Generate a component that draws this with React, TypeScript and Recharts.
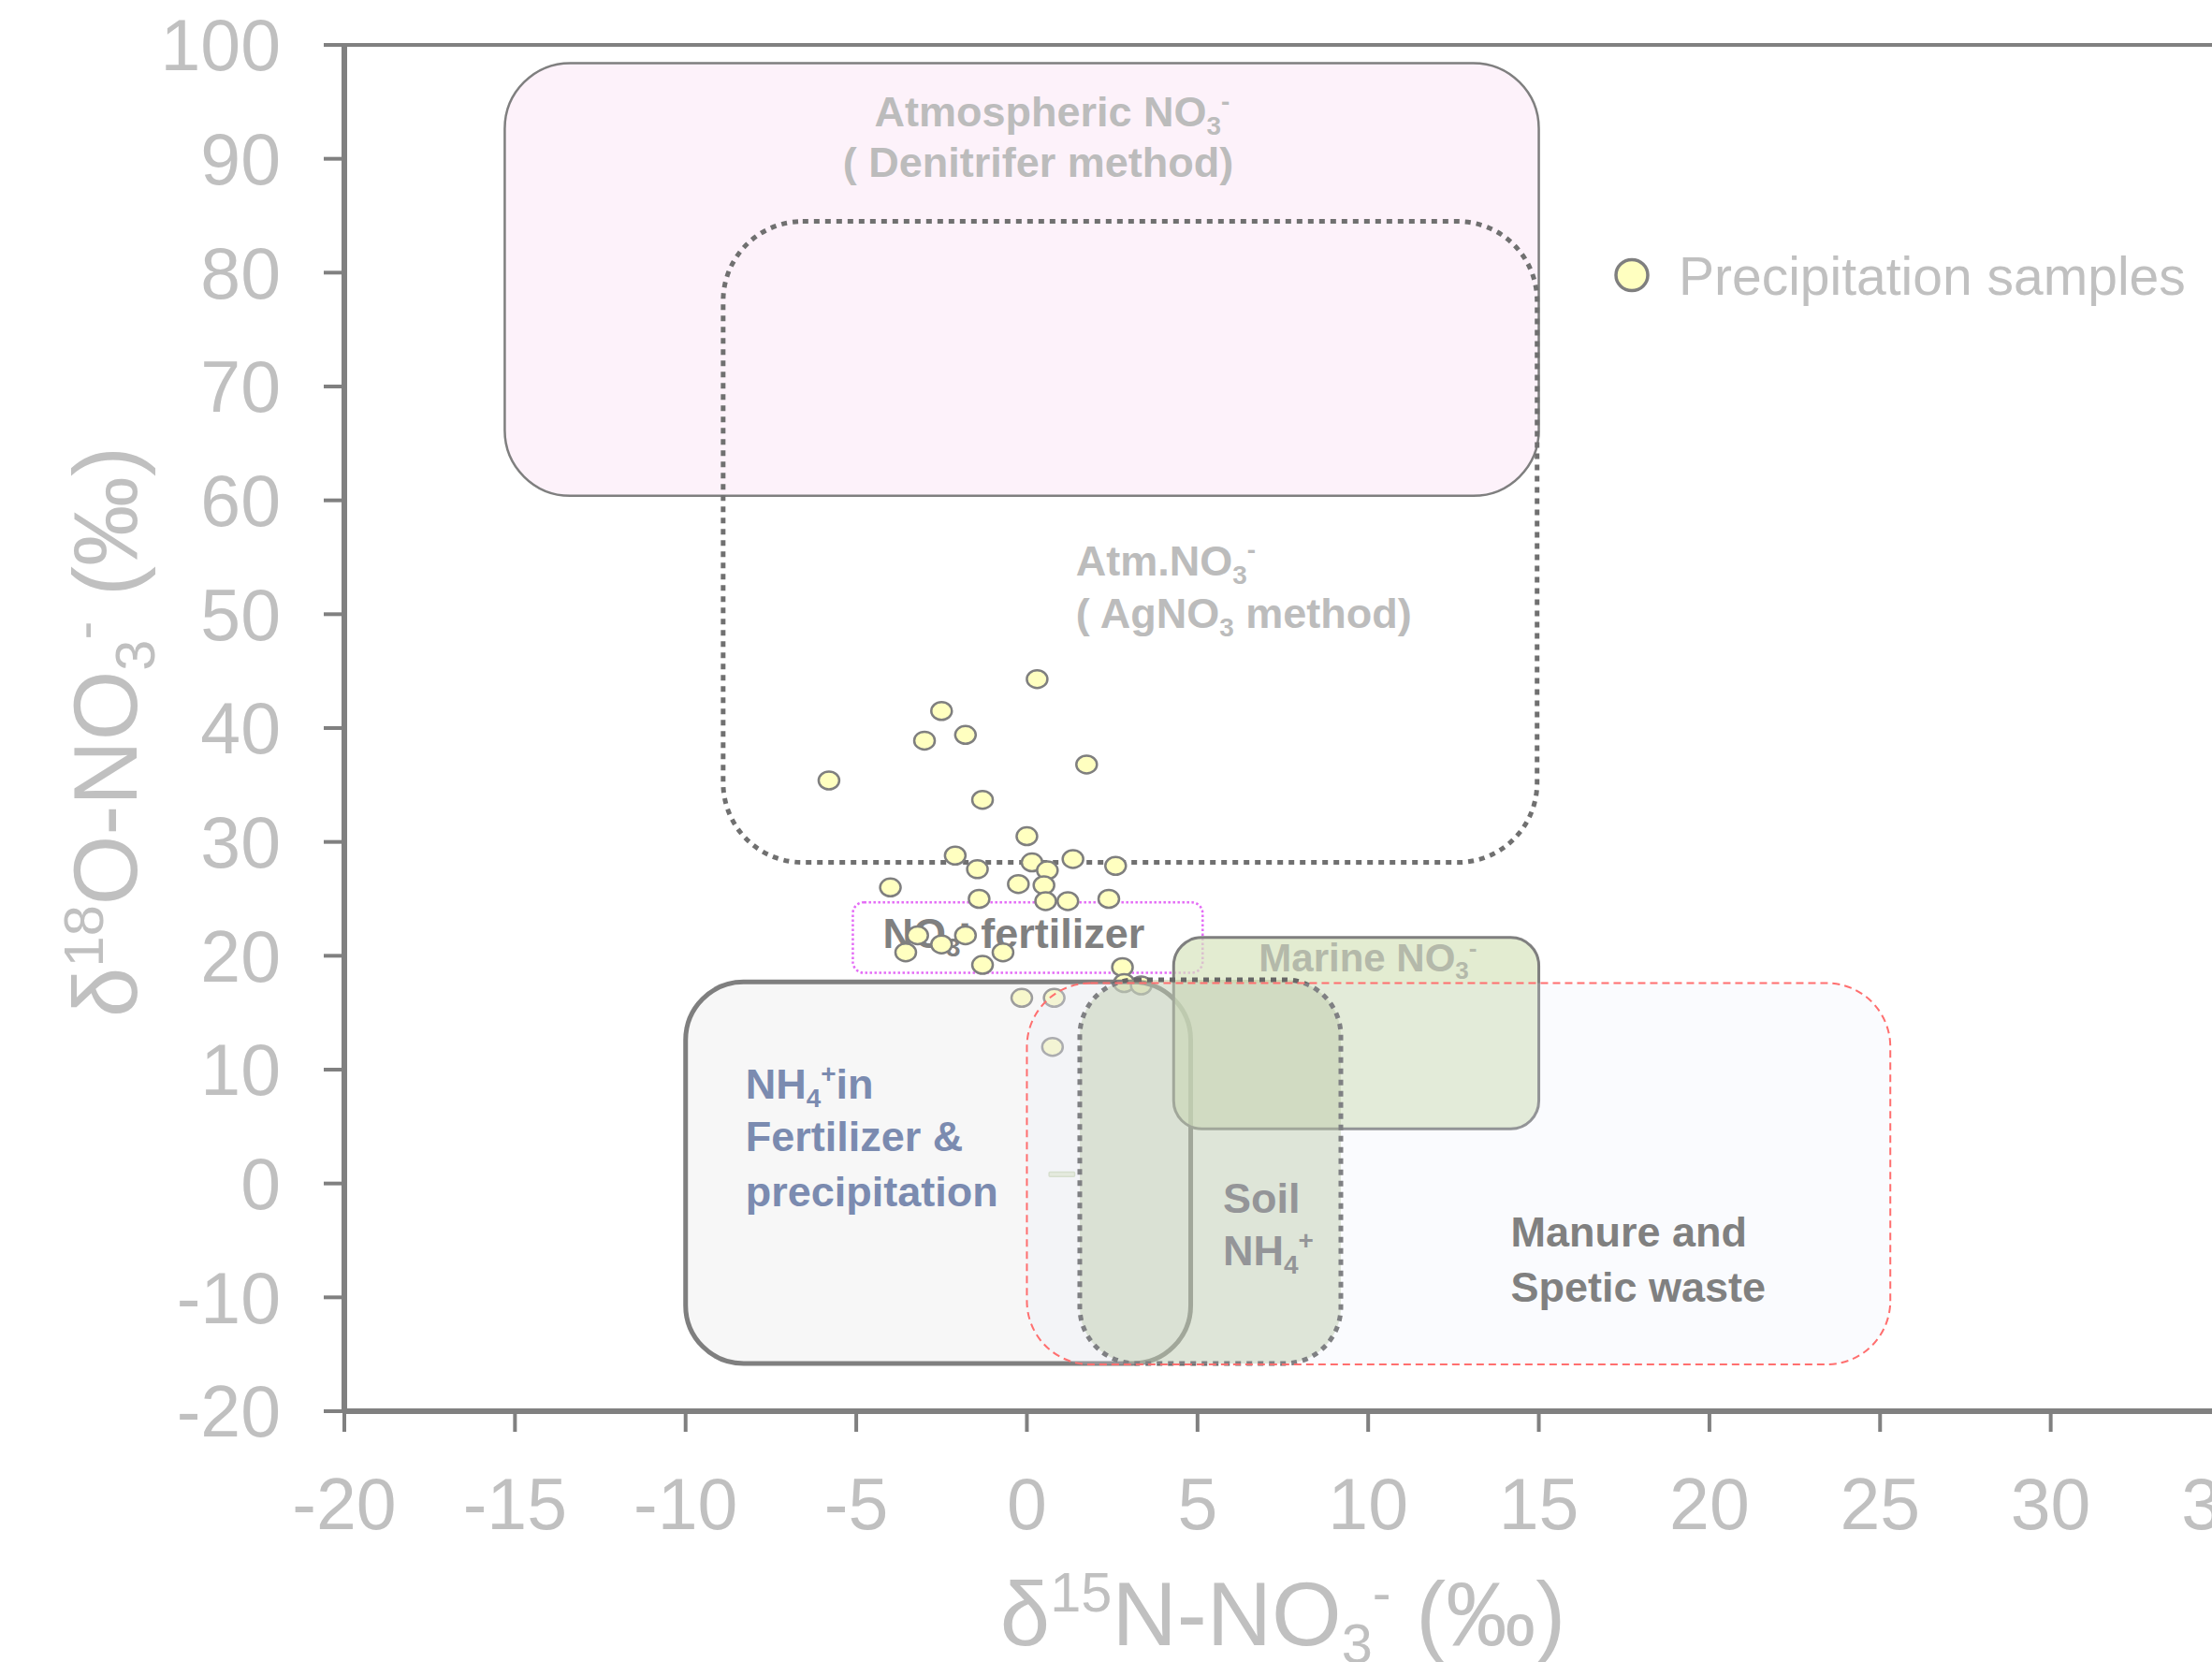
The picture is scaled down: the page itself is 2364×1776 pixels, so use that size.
import React from "react";
import {
	Label,
	Legend,
	ReferenceArea,
	ReferenceLine,
	Scatter,
	ScatterChart,
	XAxis,
	YAxis,
} from "recharts";

const FONT = "'Liberation Sans', Arial, Helvetica, sans-serif";

// axis ticks
const xTicks = [-20, -15, -10, -5, 0, 5, 10, 15, 20, 25, 30, 35];
const yTicks = [-20, -10, 0, 10, 20, 30, 40, 50, 60, 70, 80, 90, 100];

// precipitation samples (d15N, d18O)
const sampleN = [
	0.3, -2.5, -3.0, -1.8, 1.75, -5.8, -1.3, 0.0, -2.1, -1.45, 0.15, 0.6, 1.35,
	2.6, -4.0, -0.25, 0.5, -1.4, 0.55, 1.2, 2.4, -3.2, -2.5, -1.8, -3.55, -0.7,
	-1.3, 2.8, -0.15, 0.8, 2.85, 3.35, 0.75,
];
const sampleO = [
	44.3, 41.5, 38.9, 39.4, 36.8, 35.4, 33.7, 30.5, 28.8, 27.6, 28.2, 27.5, 28.5,
	27.9, 26.0, 26.3, 26.2, 25.0, 24.8, 24.8, 25.0, 21.8, 21.0, 21.8, 20.3, 20.3,
	19.2, 19.0, 16.3, 16.3, 17.6, 17.4, 12.0,
];
const samples = sampleN.map((x, i) => ({ x, y: sampleO[i] }));

// source fields [x1, x2] / [y1, y2]
const atmDenitX = [-15.3, 15.0];
const atmDenitY = [60.4, 98.4];
const atmAgX = [-8.9, 14.95];
const atmAgY = [28.2, 84.5];
const fertNO3X = [-5.1, 5.15];
const fertNO3Y = [18.5, 24.7];
const nh4FertX = [-10.0, 4.8];
const nh4FertY = [-15.8, 17.7];
const marineX = [4.3, 15.0];
const marineY = [4.8, 21.6];
const soilX = [1.55, 9.2];
const soilY = [-15.8, 17.9];
const manureX = [0.0, 25.3];
const manureY = [-15.9, 17.6];
const dashX = [0.65, 1.4];
const dashY = [0.6, 1.0];

type Part = [string, number?];

function Rich({ x, y, parts, size, fill, anchor = "start", transform }: any) {
	let shift = 0;
	const spans = (parts as Part[]).map(([t, k = 0], i) => {
		const target = k === 1 ? 0.2 * size : k === -1 ? -0.38 * size : 0;
		const dy = target - shift;
		shift = target;
		return (
			<tspan key={i} dy={dy} fontSize={k ? size * 0.62 : size}>
				{t}
			</tspan>
		);
	});
	return (
		<text
			x={x}
			y={y}
			fill={fill}
			fontSize={size}
			fontFamily={FONT}
			textAnchor={anchor}
			transform={transform}
		>
			{spans}
		</text>
	);
}

function boxShape(style: any, texts: any[]) {
	return (props: any) => {
		const { x, y, width, height } = props;
		return (
			<g>
				<rect
					x={x}
					y={y}
					width={width}
					height={height}
					rx={style.r}
					ry={style.r}
					fill={style.fill}
					fillOpacity={style.fillOpacity ?? 1}
					stroke={style.stroke}
					strokeWidth={style.strokeWidth}
					strokeDasharray={style.dash}
				/>
				{texts.map((t, i) => (
					<g key={i} fontWeight="bold">
						<Rich
							x={x + t.dx}
							y={y + t.dy}
							parts={t.parts}
							size={t.size ?? 45}
							fill={t.fill}
							anchor={t.anchor}
						/>
					</g>
				))}
			</g>
		);
	};
}

const SampleDot = (props: any) => {
	const { cx, cy } = props;
	if (cx == null || cy == null) return null;
	return (
		<ellipse
			cx={cx}
			cy={cy}
			rx={11}
			ry={9.5}
			fill="#ffffc0"
			stroke="#7f7f7f"
			strokeWidth={2.5}
		/>
	);
};

const LegendBox = (props: any) => {
	const name = props.payload?.[0]?.value ?? "Precipitation samples";
	return (
		<svg width={660} height={80}>
			<ellipse
				cx={24}
				cy={40}
				rx={17}
				ry={16.5}
				fill="#ffffc0"
				stroke="#7f7f7f"
				strokeWidth={3.5}
			/>
			<text x={74} y={61} fill="#c0c0c0" fontSize={57} fontFamily={FONT}>
				{name}
			</text>
		</svg>
	);
};

const XTitle = (props: any) => {
	const vb = props.viewBox || {};
	return (
		<Rich
			x={vb.x + vb.width / 2}
			y={vb.y + 250}
			anchor="middle"
			size={96}
			fill="#c0c0c0"
			parts={[["δ"], ["15", -1], ["N-NO"], ["3", 1], ["-", -1], [" (‰)"]]}
		/>
	);
};

const YTitle = (props: any) => {
	const vb = props.viewBox || {};
	const cx = 146;
	const cy = vb.y + vb.height / 2 + 4;
	return (
		<Rich
			x={cx}
			y={cy}
			anchor="middle"
			size={96}
			fill="#c0c0c0"
			transform={`rotate(-90 ${cx} ${cy})`}
			parts={[["δ"], ["18", -1], ["O-NO"], ["3", 1], ["-", -1], [" (‰)"]]}
		/>
	);
};

export default function App() {
	const tickStyle = { fill: "#c0c0c0", fontSize: 77, fontFamily: FONT };
	return (
		<div
			style={{
				position: "absolute",
				left: 0,
				top: 0,
				width: 2364,
				height: 1776,
				overflow: "hidden",
				background: "#fff",
			}}
		>
			<ScatterChart
				width={2420}
				height={1776}
				margin={{ top: 48, right: 46, bottom: 0, left: 0 }}
			>
				<XAxis
					type="number"
					dataKey="x"
					domain={[-20, 35]}
					ticks={xTicks}
					interval={0}
					allowDataOverflow
					height={268}
					tickSize={22}
					tickMargin={49}
					tick={tickStyle}
					tickLine={{ stroke: "#808080", strokeWidth: 4 }}
					axisLine={{ stroke: "#808080", strokeWidth: 6 }}
				>
					<Label content={XTitle} />
				</XAxis>
				<YAxis
					type="number"
					dataKey="y"
					domain={[-20, 100]}
					ticks={yTicks}
					interval={0}
					allowDataOverflow
					width={368}
					tickSize={22}
					tickMargin={46}
					tick={tickStyle}
					tickLine={{ stroke: "#808080", strokeWidth: 4 }}
					axisLine={{ stroke: "#808080", strokeWidth: 6 }}
				>
					<Label content={YTitle} />
				</YAxis>

				<ReferenceArea
					x1={atmDenitX[0]}
					x2={atmDenitX[1]}
					y1={atmDenitY[0]}
					y2={atmDenitY[1]}
					zIndex={100}
					shape={boxShape(
						{ r: 70, fill: "#fdf2fa", stroke: "#7f7f7f", strokeWidth: 2.5 },
						[
							{
								dx: 585,
								dy: 68,
								anchor: "middle",
								fill: "#bcbcbc",
								parts: [["Atmospheric NO"], ["3", 1], ["-", -1]],
							},
							{
								dx: 570,
								dy: 122,
								anchor: "middle",
								fill: "#bcbcbc",
								parts: [["( Denitrifer method)"]],
							},
						],
					)}
				/>
				<ReferenceArea
					x1={atmAgX[0]}
					x2={atmAgX[1]}
					y1={atmAgY[0]}
					y2={atmAgY[1]}
					zIndex={110}
					shape={boxShape(
						{ r: 85, fill: "none", stroke: "#707070", strokeWidth: 5, dash: "6 6" },
						[
							{
								dx: 377,
								dy: 378,
								fill: "#bcbcbc",
								parts: [["Atm.NO"], ["3", 1], ["-", -1]],
							},
							{
								dx: 377,
								dy: 434,
								fill: "#bcbcbc",
								parts: [["( AgNO"], ["3", 1], [" method)"]],
							},
						],
					)}
				/>
				<ReferenceArea
					x1={fertNO3X[0]}
					x2={fertNO3X[1]}
					y1={fertNO3Y[0]}
					y2={fertNO3Y[1]}
					zIndex={120}
					shape={boxShape(
						{ r: 12, fill: "none", stroke: "#e46cf6", strokeWidth: 2.5, dash: "2.5 2.5" },
						[
							{
								dx: 32,
								dy: 49,
								fill: "#808080",
								parts: [["NO"], ["3", 1], ["-", -1], [" fertilizer"]],
							},
						],
					)}
				/>

				<Scatter
					name="Precipitation samples"
					data={samples}
					shape={SampleDot}
					isAnimationActive={false}
					zIndex={600}
				/>

				<ReferenceArea
					x1={nh4FertX[0]}
					x2={nh4FertX[1]}
					y1={nh4FertY[0]}
					y2={nh4FertY[1]}
					zIndex={700}
					shape={boxShape(
						{ r: 62, fill: "#e6e6e6", fillOpacity: 0.3, stroke: "#7f7f7f", strokeWidth: 5 },
						[
							{ dx: 64, dy: 125, fill: "#7b8bb0", parts: [["NH"], ["4", 1], ["+", -1], ["in"]] },
							{ dx: 64, dy: 181, fill: "#7b8bb0", parts: [["Fertilizer &"]] },
							{ dx: 64, dy: 240, fill: "#7b8bb0", parts: [["precipitation"]] },
						],
					)}
				/>
				<ReferenceArea
					x1={dashX[0]}
					x2={dashX[1]}
					y1={dashY[0]}
					y2={dashY[1]}
					zIndex={705}
					shape={boxShape(
						{ r: 1, fill: "#e4ead8", stroke: "#d3dcc4", strokeWidth: 1.5 },
						[],
					)}
				/>
				<ReferenceArea
					x1={marineX[0]}
					x2={marineX[1]}
					y1={marineY[0]}
					y2={marineY[1]}
					zIndex={710}
					shape={boxShape(
						{ r: 30, fill: "#d7e4be", fillOpacity: 0.7, stroke: "#7f7f7f", strokeWidth: 3 },
						[
							{
								dx: 91,
								dy: 36,
								size: 42,
								fill: "#b4b9aa",
								parts: [["Marine NO"], ["3", 1], ["-", -1]],
							},
						],
					)}
				/>
				<ReferenceArea
					x1={soilX[0]}
					x2={soilX[1]}
					y1={soilY[0]}
					y2={soilY[1]}
					zIndex={720}
					shape={boxShape(
						{ r: 60, fill: "#aabb89", fillOpacity: 0.4, stroke: "#666666", strokeWidth: 5, dash: "6 6" },
						[
							{ dx: 153, dy: 249, fill: "#808080", parts: [["Soil"]] },
							{ dx: 153, dy: 305, fill: "#808080", parts: [["NH"], ["4", 1], ["+", -1]] },
						],
					)}
				/>
				<ReferenceArea
					x1={manureX[0]}
					x2={manureX[1]}
					y1={manureY[0]}
					y2={manureY[1]}
					zIndex={730}
					shape={boxShape(
						{ r: 68, fill: "#e6ecf8", fillOpacity: 0.2, stroke: "#ff6f6f", strokeWidth: 2, dash: "8 5" },
						[
							{ dx: 517, dy: 281, fill: "#808080", parts: [["Manure and"]] },
							{ dx: 517, dy: 340, fill: "#808080", parts: [["Spetic waste"]] },
						],
					)}
				/>

				<ReferenceLine y={100} stroke="#808080" strokeWidth={4} />

				<Legend
					layout="vertical"
					align="center"
					verticalAlign="middle"
					content={LegendBox}
					wrapperStyle={{ left: 1720, top: 254, width: 660, height: 80 }}
				/>
			</ScatterChart>
		</div>
	);
}
